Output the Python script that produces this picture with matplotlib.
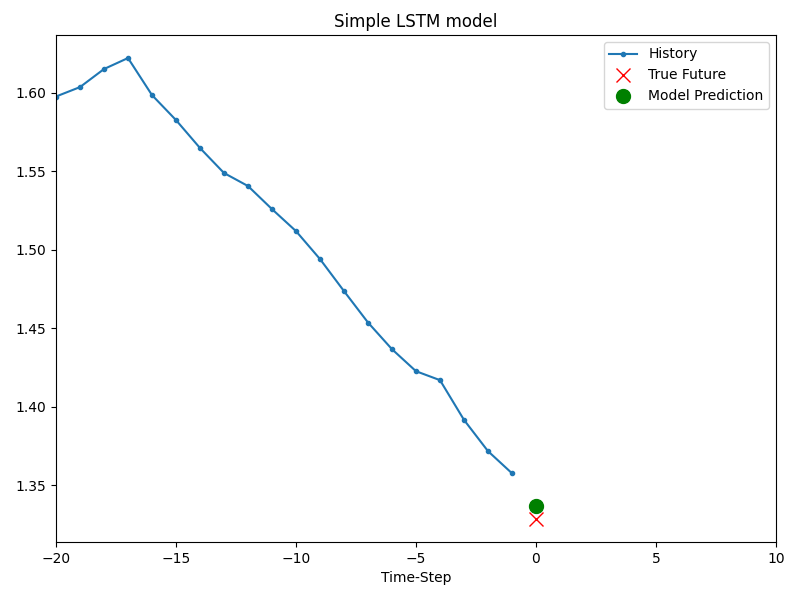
import numpy as np
import matplotlib
matplotlib.use("Agg")
import matplotlib.pyplot as plt

# history values (last 20 steps)
history = [1.5976, 1.6036, 1.6151, 1.6221, 1.5985, 1.5826, 1.5648, 1.5489,
           1.5406, 1.5259, 1.5119, 1.4941, 1.4737, 1.4537, 1.4367, 1.4227,
           1.4170, 1.3917, 1.3718, 1.3577]
true_future = 1.3285
prediction = 1.3369
future = 0

time_steps = list(range(-len(history), 0))

plt.figure(figsize=(8, 6), dpi=100)
plt.title("Simple LSTM model")
plt.plot(time_steps, history, '.-', label='History')
plt.plot(future, true_future, 'rx', markersize=10, label='True Future')
plt.plot(future, prediction, 'go', markersize=10, label='Model Prediction')
plt.legend()
plt.xlim([time_steps[0], (future + 5) * 2])
plt.xlabel('Time-Step')
plt.subplots_adjust(left=0.07, right=0.97, top=0.9417, bottom=0.0963)
plt.savefig('out.png')
